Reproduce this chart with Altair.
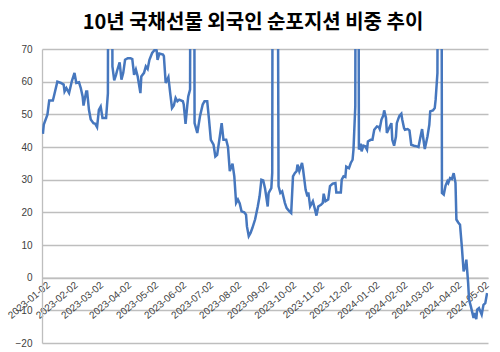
import altair as alt
import pandas as pd

title = "10년 국채선물 외국인 순포지션 비중 추이"
start_date = "2023-01-02"
end_date = "2024-05-10"

# calendar-day offset from start_date, and foreign net position share (%)
day_offset = [
    1, 2, 6, 8, 12, 13, 17, 21, 24, 25, 27, 30, 33, 36, 38, 41, 43, 45, 46, 49,
    50, 52, 54, 57, 59, 61, 63, 65, 67, 71, 73, 74, 77, 78, 80, 82, 83, 86, 88, 90,
    92, 95, 98, 100, 102, 104, 106, 109, 110, 113, 115, 117, 119, 122, 125, 127, 128, 130, 134, 135,
    137, 140, 142, 144, 146, 148, 150, 152, 156, 157, 159, 161, 162, 164, 165, 168, 169, 172, 175, 178,
    180, 183, 185, 187, 190, 192, 194, 197, 199, 201, 204, 206, 208, 211, 213, 215, 217, 219, 221, 224,
    226, 227, 229, 231, 233, 236, 239, 241, 243, 245, 247, 250, 251, 252, 254, 255, 256, 260, 262, 264,
    266, 269, 271, 274, 276, 278, 280, 282, 283, 285, 288, 289, 292, 294, 295, 297, 300, 302, 304, 306,
    309, 311, 312, 314, 317, 319, 322, 325, 326, 331, 332, 334, 336, 337, 340, 342, 344, 345, 347, 348,
    350, 351, 353, 354, 356, 358, 360, 361, 364, 366, 368, 371, 373, 374, 376, 378, 379, 381, 382, 385,
    387, 388, 390, 392, 393, 395, 396, 398, 399, 401, 402, 405, 407, 409, 412, 415, 417, 419, 421, 422,
    424, 427, 429, 430, 433, 435, 436, 438, 439, 442, 443, 445, 447, 449, 450, 452, 454, 456, 458, 459,
    461, 463, 465, 467, 469, 470, 472, 473, 475, 478, 479, 481, 482, 484, 487, 489, 491, 493,
]
share = [
    44, 46.9, 49.9, 54.2, 54.2, 55.3, 60, 59.6, 59.1, 57, 58, 56.5, 60.1, 62.7, 59.6, 59.8, 58, 55.5, 52.7, 57,
    57, 51.4, 48.4, 47.3, 47.1, 46.1, 51.4, 52.4, 48.9, 48.9, 56.5, 200, 200, 64.7, 60.4, 62.1, 63.2, 65.9, 60.6, 62.7,
    66.7, 67.2, 67.2, 66.9, 62.1, 63.7, 61.6, 56.5, 61.6, 62.7, 64.7, 63.9, 66.7, 68.8, 69.8, 69.6, 66.7, 68.6, 68.3, 67.8,
    59.6, 61.4, 56.5, 51.9, 52.7, 55, 54, 54.5, 54, 53, 47.1, 53, 55.5, 57.6, 200, 200, 47.3, 44.3, 49.4, 53,
    54, 54, 48.4, 42.2, 40.7, 37.1, 37.6, 43.3, 47.3, 42.2, 42.2, 40, 32.6, 34.9, 31, 22.9, 23.9, 22.7, 20.3, 20,
    19.3, 15.7, 12.7, 13.7, 15.2, 17.8, 21.8, 24.9, 30, 29.8, 27.4, 21.8, 25.9, 26.4, 27.4, 32, 200, 200, 28, 25.9,
    26.4, 22.9, 21.3, 20.3, 19.8, 31, 32, 32.6, 34.6, 32.6, 35.1, 33.5, 26.9, 24.9, 26.1, 21.8, 23.4, 21.3, 19, 21.8,
    22.3, 22.9, 25.7, 23.4, 23.9, 28, 28.8, 29, 26.1, 26.1, 30, 31, 30.8, 34, 33.5, 35.1, 36.1, 39.2, 52.4, 200,
    200, 39.2, 41, 38.7, 40.4, 40.2, 39.2, 41.7, 42.2, 42.2, 45.3, 46.3, 46.1, 45.5, 48.4, 49.6, 51.2, 48.9, 44.3, 46.1,
    47.3, 42.2, 40.4, 43.1, 47.3, 48.9, 49.6, 50.2, 48.4, 45.8, 45.3, 45.5, 45.1, 40.7, 40.4, 40.2, 40, 42.8, 45.5, 43.3,
    39.4, 43.3, 46.8, 50.9, 51.2, 51.9, 54.5, 62.7, 200, 200, 25.9, 25.4, 28.2, 29.5, 29, 30.5, 30.2, 32, 29, 17.8,
    16.9, 16.2, 9.6, 1.9, 3.5, 5.5, -1.6, -6.7, -8.8, -12.3, -10.8, -12.7, -9.8, -9.3, -11.3, -8.3, -7.8, -4.7,
]

tick_dates = [
    "2023-01-02", "2023-02-02", "2023-03-02", "2023-04-02", "2023-05-02", "2023-06-02",
    "2023-07-02", "2023-08-02", "2023-09-02", "2023-10-02", "2023-11-02", "2023-12-02",
    "2024-01-02", "2024-02-02", "2024-03-02", "2024-04-02", "2024-05-02",
]
y_ticks = [-20, -10, 0, 10, 20, 30, 40, 50, 60, 70]
y_min, y_max = -20, 70

dates = pd.Timestamp(start_date) + pd.to_timedelta(day_offset, unit="D")
df = pd.DataFrame({"date": dates, "share": share})


def dt(s):
    t = pd.Timestamp(s)
    return alt.DateTime(year=t.year, month=t.month, date=t.day)


W, H = 446, 294
x_axis_offset = -H * (0 - y_min) / (y_max - y_min)

grid_col = "#BEBEBE"
label_col = "#404040"

chart = (
    alt.Chart(df)
    .mark_line(color="#4677BE", strokeWidth=2.5, clip=True)
    .encode(
        x=alt.X(
            "date:T",
            scale=alt.Scale(domain=[dt(start_date), dt(end_date)]),
            axis=alt.Axis(
                values=[dt(s) for s in tick_dates],
                format="%Y-%m-%d",
                labelAngle=-40,
                labelAlign="right",
                labelBaseline="top",
                labelOverlap=False,
                labelFlush=False,
                labelBound=False,
                labelPadding=2,
                labelFont="Liberation Sans",
                labelFontSize=10,
                labelColor=label_col,
                labelOffset=3,
                grid=False,
                ticks=False,
                domainColor=grid_col,
                domainWidth=1.3,
                offset=x_axis_offset,
                title=None,
            ),
        ),
        y=alt.Y(
            "share:Q",
            scale=alt.Scale(domain=[y_min, y_max], nice=False, zero=False),
            axis=alt.Axis(
                values=y_ticks,
                grid=True,
                gridColor=grid_col,
                gridWidth=1.3,
                ticks=False,
                domainColor=grid_col,
                domainWidth=1.3,
                labelPadding=10,
                labelFont="Liberation Sans",
                labelFontSize=10,
                labelColor=label_col,
                title=None,
            ),
        ),
    )
    .properties(
        width=W,
        height=H,
        title=alt.TitleParams(
            title,
            font="Noto Sans CJK KR",
            fontSize=20,
            fontWeight="bold",
            color="#000000",
            anchor="middle",
            dx=-12,
            offset=11,
        ),
        padding={"left": 42, "top": 49, "right": 12, "bottom": 9},
        autosize="none",
    )
    .configure_view(stroke=None)
)

chart.save("out.html", embed_options={"renderer": "svg", "actions": False})
